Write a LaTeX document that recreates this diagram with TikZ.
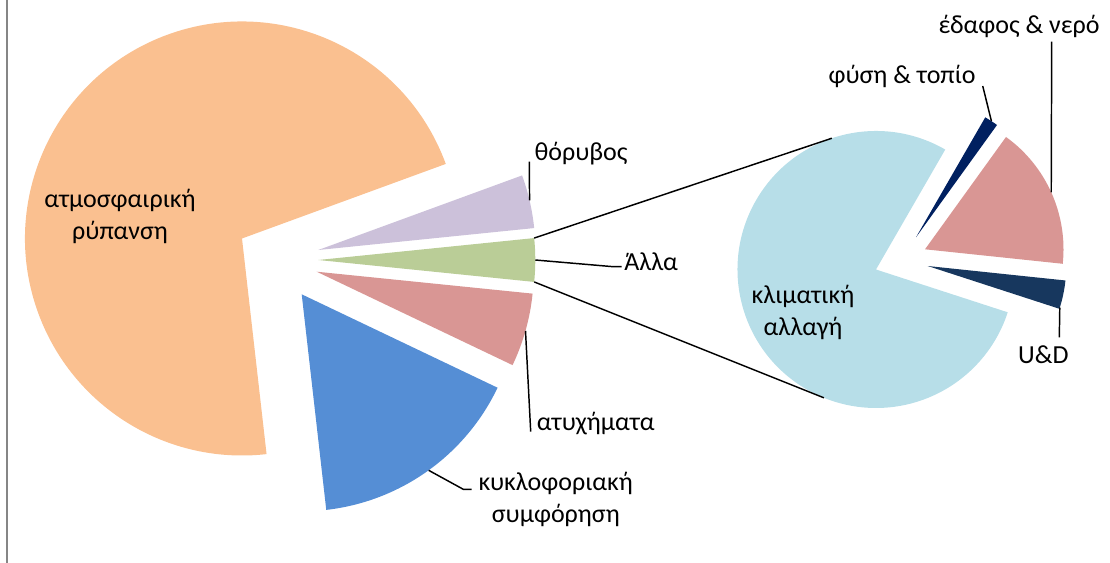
\documentclass[tikz,border=0pt]{standalone}
\usepackage{fontspec}
\setmainfont{Carlito}
\definecolor{ryp}{RGB}{250,192,144}
\definecolor{thor}{RGB}{204,193,218}
\definecolor{alla}{RGB}{186,205,151}
\definecolor{atyx}{RGB}{217,150,148}
\definecolor{kykl}{RGB}{85,142,213}
\definecolor{klim}{RGB}{183,222,232}
\definecolor{fysi}{RGB}{0,32,96}
\definecolor{edaf}{RGB}{217,150,148}
\definecolor{ud}{RGB}{23,55,94}
\definecolor{plaisio}{RGB}{134,134,134}

\begin{document}
\begin{tikzpicture}[x=0.75pt,y=0.75pt,
    lbl/.style={inner sep=0pt,font=\fontsize{19.5}{24}\selectfont},
    odigos/.style={line width=1.1pt}]
       \useasboundingbox(0,0)rectangle(1110,-563);
       \draw[line width=1.5pt,plaisio](6.5,0)--(6.5,-563);%πλαίσιο

       %αριστερή πίτα
       \coordinate(O1)at(242,-238.5);%ατμοσφαιρική ρύπανση
       \coordinate(O2)at(318.3,-250);%θόρυβος
       \coordinate(O3)at(318.3,-260);%Άλλα
       \coordinate(O4)at(316.7,-271.7);%ατυχήματα
       \coordinate(O5)at(301.7,-294.3);%κυκλοφοριακή συμφόρηση
       \foreach \kk/\col/\ga/\gb in{O1/ryp/20.1/276.5,O2/thor/5.8/20.1,O3/alla/-5.8/5.8,
                                    O4/atyx/-25.5/-5.8,O5/kykl/-83.5/-25.5}
           \fill[\col](\kk)--++(\ga:217)arc[start angle=\ga,end angle=\gb,radius=217]--cycle;%κομμάτια

       %δεξιά πίτα
       \coordinate(Q1)at(876,-269.5);%κλιματική αλλαγή
       \coordinate(Q2)at(916,-237.3);%φύση & τοπίο
       \coordinate(Q3)at(925,-249.3);%έδαφος & νερό
       \coordinate(Q4)at(927.7,-266);%U&D
       \foreach \kk/\col/\ga/\gb in{Q1/klim/60/342,Q2/fysi/54.2/60,Q3/edaf/-6/54.2,Q4/ud/-18/-6}
           \fill[\col](\kk)--++(\ga:138.5)arc[start angle=\ga,end angle=\gb,radius=138.5]--cycle;

       %γραμμές σύνδεσης
       \path(O3)++(5.8:217)coordinate(G1);
       \path(O3)++(-5.8:217)coordinate(G2);
       \path(Q1)++(108.6:138.5)coordinate(K1);
       \path(Q1)++(-112.1:138.5)coordinate(K2);
       \draw[odigos](G1)--(K1);
       \draw[odigos](G2)--(K2);

       %ετικέτες
       \node[lbl,align=center](Tryp)at(120,-216.5){ατμοσφαιρική\\ρύπανση};
       \node[lbl,anchor=west](Tthor)at(534.3,-154){θόρυβος};
       \node[lbl,anchor=west](Talla)at(624,-261.7){Άλλα};
       \node[lbl,anchor=west](Tatyx)at(536.7,-423.3){ατυχήματα};
       \node[lbl,align=center](Tkykl)at(555.8,-499){κυκλοφοριακή\\συμφόρηση};
       \node[lbl,align=center](Tklim)at(803,-312.5){κλιματική\\αλλαγή};
       \node[lbl,anchor=west](Tfysi)at(828.3,-76.7){φύση \& τοπίο};
       \node[lbl,anchor=west](Tedaf)at(938.3,-26.7){έδαφος \& νερό};
       \node[lbl](Tud)at(1043.3,-355){U\&D};

       %οδηγοί ετικετών
       \path(O2)++(13.2:217)coordinate(L2);
       \coordinate(E2)at(529.3,-161.7);
       \draw[odigos](L2)--(E2);
       \path(O3)++(0:217)coordinate(L3);
       \coordinate(E3)at(613.3,-266.7);
       \coordinate(F3)at(621.7,-266.7);
       \draw[odigos](L3)--(E3)--(F3);
       \path(O4)++(-15.8:217)coordinate(L4);
       \coordinate(E4)at(530.7,-431.7);
       \draw[odigos](L4)--(E4);
       \path(O5)++(-54.2:217)coordinate(L5);
       \coordinate(E5)at(463.3,-489.3);
       \coordinate(F5)at(471.7,-489.3);
       \draw[odigos](L5)--(E5)--(F5);
       \path(Q2)++(57:138.5)coordinate(L6);
       \coordinate(E6)at(982.7,-86);
       \draw[odigos](L6)--(E6);
       \path(Q3)++(24.3:138.5)coordinate(L7);
       \coordinate(E7)at(1051.7,-41.7);
       \draw[odigos](L7)--(E7);
       \path(Q4)++(-17.5:138.5)coordinate(L8);
       \coordinate(E8)at(1059.3,-337.3);
       \draw[odigos](L8)--(E8);
\end{tikzpicture}
\end{document}
